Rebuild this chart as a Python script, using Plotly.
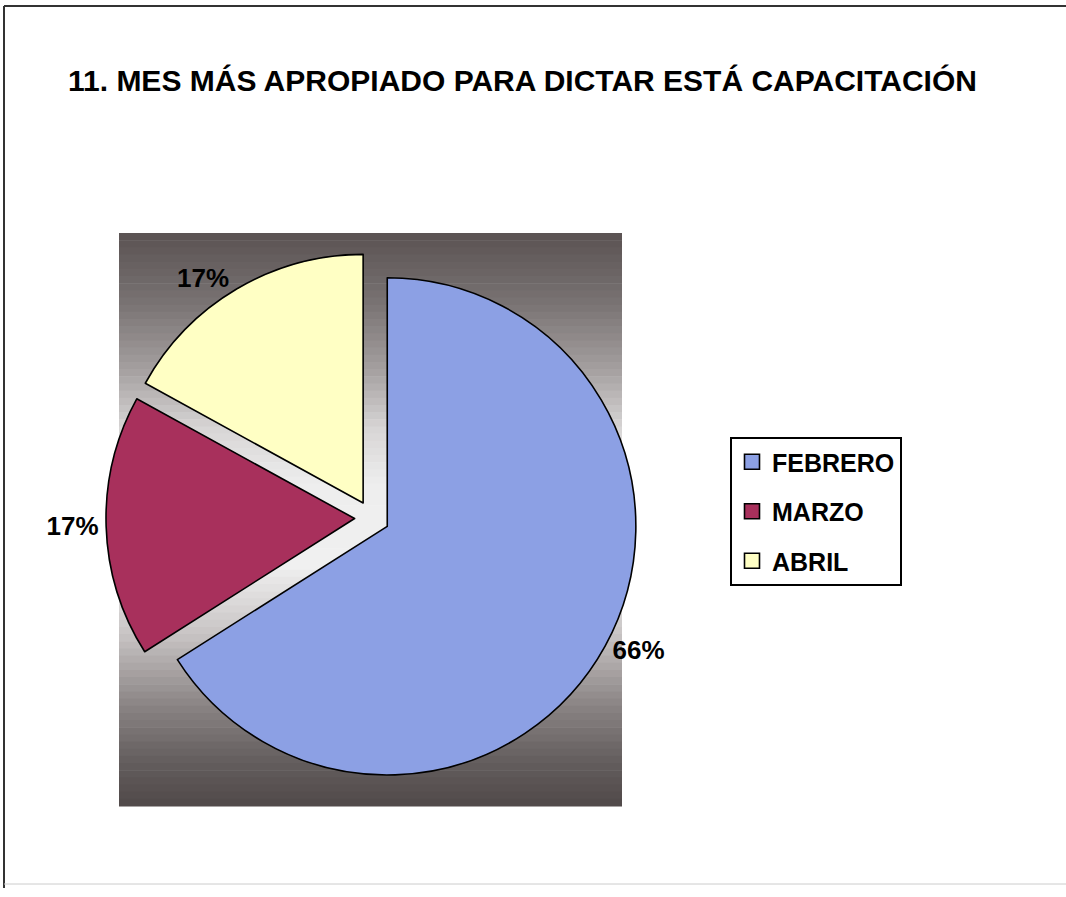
import plotly.graph_objects as go

# ---- data ----
categories = ["FEBRERO", "MARZO", "ABRIL"]
values = [66, 17, 17]
colors = ["#8CA0E4", "#A8305C", "#FFFFC4"]
title_text = "11. MES MÁS APROPIADO PARA DICTAR ESTÁ CAPACITACIÓN"

W, H = 1066, 897
FONT = "Liberation Sans Narrow, Arial Narrow, Liberation Sans, Arial, sans-serif"

def px(x):
    return x / W

def py(y):
    return 1 - y / H

fig = go.Figure()
fig.add_trace(go.Pie(
    labels=categories,
    values=values,
    sort=False,
    direction="clockwise",
    rotation=0,
    pull=[0.07, 0.07, 0.07],
    marker=dict(colors=colors, line=dict(color="black", width=1.6)),
    texttemplate="%{percent:.0%}",
    textposition="outside",
    outsidetextfont=dict(family=FONT, size=26, color="black", weight="bold"),
    domain=dict(x=[px(106), px(638)], y=[py(784), py(252)]),
    hoverinfo="label+percent",
    showlegend=False,
))

# legend entries (one per category, same colours as the slices)
for name, c in zip(categories, colors):
    fig.add_trace(go.Scatter(
        x=[None], y=[None], mode="markers", name=name, legendgroup=name,
        marker=dict(symbol="square", size=15, color=c, line=dict(color="black", width=1.6)),
        hoverinfo="skip",
    ))

# gradient background of the plot area (horizontal bands)
x0, x1, y0, y1 = 119, 622, 233, 806
stops = [(0.0, (90, 82, 82)), (0.12, (120, 114, 114)), (0.24, (165, 160, 160)),
         (0.34, (215, 213, 213)), (0.44, (238, 238, 238)), (0.58, (240, 240, 240)),
         (0.70, (200, 196, 196)), (0.82, (140, 134, 134)), (0.92, (100, 94, 94)),
         (1.0, (80, 73, 73))]

def col(t):
    for (ta, ca), (tb, cb) in zip(stops[:-1], stops[1:]):
        if ta <= t <= tb:
            f = (t - ta) / (tb - ta) if tb > ta else 0
            c = [round(a + (b - a) * f) for a, b in zip(ca, cb)]
            return "rgb(%d,%d,%d)" % tuple(c)
    return "rgb(80,73,73)"

n = 80
shapes = []
for i in range(n):
    ya = y0 + (y1 - y0) * i / n
    yb = y0 + (y1 - y0) * (i + 1) / n + 0.6
    shapes.append(dict(type="rect", xref="paper", yref="paper",
                       x0=px(x0), x1=px(x1), y0=py(yb), y1=py(ya),
                       fillcolor=col((i + 0.5) / n), line=dict(width=0), layer="below"))
# outer chart border
shapes.append(dict(type="line", xref="paper", yref="paper", x0=px(4), x1=1, y0=py(6), y1=py(6),
                   line=dict(color="#333333", width=2)))
shapes.append(dict(type="line", xref="paper", yref="paper", x0=px(4), x1=px(4), y0=py(6), y1=py(888),
                   line=dict(color="#333333", width=2)))
shapes.append(dict(type="line", xref="paper", yref="paper", x0=px(4), x1=1, y0=py(884), y1=py(884),
                   line=dict(color="#cccccc", width=1)))

fig.update_layout(
    width=W, height=H,
    margin=dict(l=0, r=0, t=0, b=0),
    paper_bgcolor="white",
    plot_bgcolor="rgba(0,0,0,0)",
    xaxis=dict(visible=False),
    yaxis=dict(visible=False),
    shapes=shapes,
    title=dict(text=title_text, x=px(68), xanchor="left", y=py(80), yanchor="middle",
               font=dict(family=FONT, size=30, color="black", weight="bold")),
    legend=dict(x=px(730), y=py(437), xanchor="left", yanchor="top",
                bordercolor="black", borderwidth=2, bgcolor="white",
                font=dict(family=FONT, size=25, color="black", weight="bold"),
                itemwidth=30, tracegroupgap=14),
    showlegend=True,
)

fig.write_html("out.html")
